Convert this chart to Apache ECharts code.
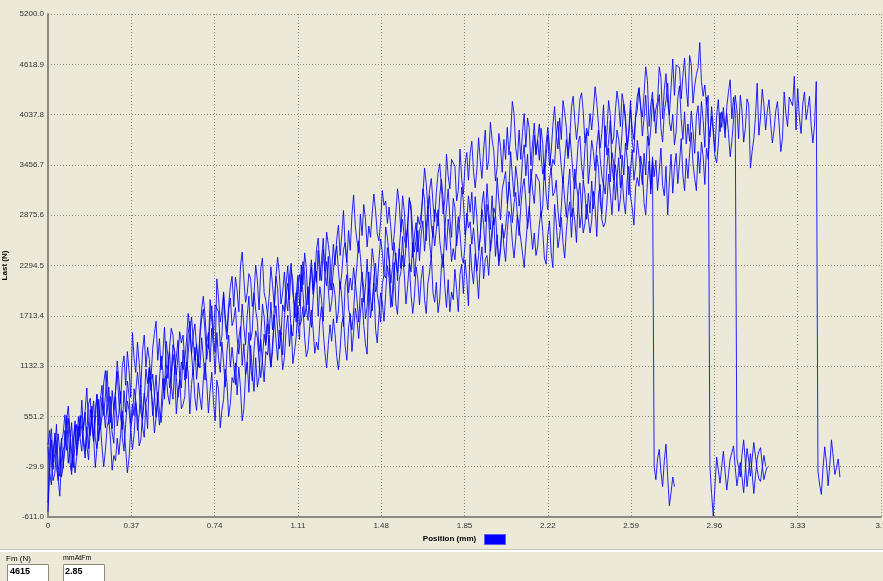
<!DOCTYPE html>
<html>
<head>
<meta charset="utf-8">
<title>Last / Position</title>
<script src="https://cdn.jsdelivr.net/npm/echarts@6.0.0/dist/echarts.min.js"></script>
<style>
  html, body { margin: 0; padding: 0; background: #ECE9D8; }
  #chart { width: 883px; height: 581px; }
</style>
</head>
<body>
<div id="chart"></div>
<script>
// Sampling step of the recorded traces along the position axis (mm)
const POSITION_STEP_MM = 0.0075;

// Axis ticks
const positionTicks = { min: 0, max: 3.7, interval: 0.37 };
const loadTicks = { min: -611, max: 5200, interval: 581.1 };

// Load traces (N) of the four specimens, one sample per step, ten samples per row
const specimen1 = [
  220,390,30,-190,-110,160,350,130,-150,-20,
  170,500,670,390,140,-40,230,460,270,530,
  560,300,150,380,690,760,420,260,630,800,
  270,490,770,640,420,710,890,570,360,240,
  780,440,590,840,310,150,460,730,620,400,
  550,870,730,390,570,910,430,310,710,800,
  1120,900,560,770,1030,670,450,640,990,850,
  850,1150,1300,910,750,1100,1230,1430,990,880,
  1320,970,1120,1510,1650,1270,1030,1350,980,1210,
  1110,1460,1230,970,1400,1520,1180,1570,1350,1040,
  1520,1220,1060,1410,1170,890,1310,1490,1120,1350,
  1150,920,1280,1450,1590,1140,1390,1030,1200,1520,
  1130,960,1320,1540,1460,1190,1000,1220,1500,1370,
  1620,1290,1120,1400,1650,1830,1560,1330,1520,1260,
  1680,1940,2090,1860,1550,1480,1820,1980,1610,1440,
  2200,1980,1700,1830,2050,1760,1580,1900,2110,2230,
  1710,2050,1900,1650,2180,2340,2030,1760,1870,2090,
  1950,1630,1770,2110,1930,1590,2070,2190,1790,1700,
  1550,1770,2110,1900,1640,2000,2220,2030,1680,1820,
  2220,1920,1770,2160,2320,1970,1840,1640,2080,2190,
  2150,2500,2350,1960,1820,2200,2440,2120,2490,2260,
  2630,2280,2510,2770,2340,2220,2560,2170,2390,2700,
  2350,2650,2810,2460,2700,2980,2560,2380,2750,2520,
  2710,2940,2580,2410,2270,2720,2470,2830,2660,2340,
  2490,2360,2640,2860,2670,2400,2320,2540,2900,2730,
  2800,2540,2730,2500,2230,2410,2660,2940,2770,2440,
  3000,2830,2460,2620,2960,2890,2580,2350,2500,2760,
  2610,2730,2940,3260,3080,2790,3010,3140,2860,2640,
  2970,3190,3300,3030,2720,2880,3410,3160,3010,3350,
  3350,3260,2860,2980,3460,3120,2940,3280,3420,3100,
  3140,3280,2930,2740,2960,3320,3060,2850,3190,3410,
  2860,2970,3410,3210,3080,2730,2890,3280,3130,2830,
  3130,2900,3270,2950,3190,3570,3430,3040,2890,3240,
  3120,3430,3650,3260,3600,3480,3050,3310,3540,3190,
  3570,3340,3710,3530,3110,3390,3630,3280,3440,3740,
  3720,3400,3230,3590,3340,3790,3650,3120,3500,
  -30,-180,60,170,-90,-260,40,230,-140,-480,-330,-150,-260
];

const specimen2 = [
  -550,-100,280,-60,120,460,-20,-140,260,350,
  570,350,10,220,480,120,-100,90,440,300,
  150,450,600,210,50,400,530,730,290,180,
  750,400,550,940,1080,700,460,780,410,640,
  840,1190,960,700,1130,1250,910,1300,1080,770,
  1520,1220,1060,1410,1170,890,1310,1490,1120,1350,
  1210,980,1340,1510,1650,1200,1450,1090,1260,1580,
  1160,990,1350,1570,1490,1220,1030,1250,1530,1400,
  1490,1160,990,1270,1520,1700,1430,1200,1390,1130,
  1530,1790,1940,1710,1400,1330,1670,1830,1460,1290,
  2140,1920,1640,1770,1990,1700,1520,1840,2050,2170,
  1820,2160,2010,1760,2290,2450,2140,1870,1980,2200,
  2140,1820,1960,2300,2120,1780,2260,2380,1980,1890,
  1720,1940,2280,2070,1810,2170,2390,2200,1850,1990,
  2220,1920,1770,2160,2320,1970,1840,1640,2080,2190,
  1990,2340,2190,1800,1660,2040,2280,1960,2330,2100,
  2470,2120,2350,2610,2180,2060,2400,2010,2230,2540,
  2300,2600,2760,2410,2650,2930,2510,2330,2700,2470,
  2880,3110,2750,2580,2440,2890,2640,3000,2830,2510,
  2750,2620,2900,3120,2930,2660,2580,2800,3160,2990,
  3040,2780,2970,2740,2470,2650,2900,3180,3010,2680,
  3100,2930,2560,2720,3060,2990,2680,2450,2600,2860,
  2770,2890,3100,3420,3240,2950,3170,3300,3020,2800,
  3140,3360,3470,3200,2890,3050,3580,3330,3180,3520,
  3530,3440,3040,3160,3640,3300,3120,3460,3600,3280,
  3590,3730,3380,3190,3410,3770,3510,3300,3640,3860,
  3400,3510,3950,3750,3620,3270,3430,3820,3670,3370,
  3750,3520,3890,3570,3810,4190,4050,3660,3510,3860,
  3520,3830,4050,3660,4000,3880,3450,3710,3940,3590,
  3740,3510,3880,3700,3280,3560,3800,3450,3610,3910,
  4130,3810,3640,4000,3750,4200,4060,3890,3530,3760,
  4120,4250,3970,3750,3940,4210,4290,4070,3710,3880,
  3790,4050,3860,4090,4360,4180,3930,3650,3820,4150,
  3660,3830,4200,4040,3700,3770,4080,4310,4160,3900,
  4280,4160,3950,3630,3810,4100,3880,3750,4030,4250,
  4340,4120,4010,4280,4590,4430,3900,4150,4300,3960,
  4100,4190,4590,4470,3990,4330,4510,4170,4030,4350,
  4680,4260,4610,4620,4580,4220,4480,4690,4350,4130,
  4720,4610,4170,4370,4500,4580,4870,4420,4250,4380,
  4150,4260,
  -20,-340,-600,-250,80,-70,-220,-30,150,-90,-300,-120,60,130,210,-40,-250,
  -110,20,-150,-330,-60,180,40,-140,60,250,90,-60,-170,-200,-40,100,-20
];

const specimen3 = [
  200,-100,-240,140,300,-40,-170,-370,60,170,
  210,560,410,20,-120,260,500,180,550,320,
  740,390,620,880,450,330,670,280,500,810,
  450,750,910,560,800,1080,660,480,850,620,
  840,1070,710,540,400,850,600,960,790,470,
  690,560,840,1060,870,600,520,740,1100,930,
  1110,850,1040,810,540,720,970,1250,1080,750,
  1420,1250,880,1040,1380,1310,1000,770,920,1180,
  1090,1210,1420,1740,1560,1270,1490,1620,1340,1120,
  1460,1680,1790,1520,1210,1370,1900,1650,1500,1840,
  1850,1760,1360,1480,1960,1620,1440,1780,1920,1600,
  1670,1810,1460,1270,1490,1850,1590,1380,1720,1940,
  1430,1540,1980,1780,1650,1300,1460,1850,1700,1400,
  1730,1500,1870,1550,1790,2170,2030,1640,1490,1840,
  1760,2070,2290,1900,2240,2120,1690,1950,2180,1830,
  2300,2070,2440,2260,1840,2120,2360,2010,2170,2470,
  2610,2290,2120,2480,2230,2680,2540,2370,2010,2240,
  2390,2520,2240,2020,2210,2480,2560,2340,1980,2150,
  2010,2270,2080,2310,2580,2400,2150,1870,2040,2370,
  1950,2120,2490,2330,1990,2060,2370,2600,2450,2190,
  2740,2620,2410,2090,2270,2560,2340,2210,2490,2710,
  2830,2610,2500,2770,3080,2920,2390,2640,2790,2450,
  2690,2780,3180,3060,2580,2920,3100,2760,2620,2940,
  2890,2750,3100,3290,3070,2710,2970,3180,2840,2620,
  3070,2960,2520,2720,2850,3200,3040,2650,2800,3100,
  2910,3140,2770,3090,2850,2470,2610,3000,3150,2800,
  3240,2930,2710,3100,2760,2880,3310,3050,2820,3170,
  3150,3380,3010,3190,3610,3330,3090,3440,3280,2980,
  3200,3520,3690,3330,3580,3130,3270,3440,3800,3570,
  3760,3930,3570,3350,3430,3700,3890,3670,3390,3520,
  3460,3790,3960,3680,3430,3250,3520,3750,3560,3820,
  3590,3330,3180,3410,3720,3790,3450,3290,3660,3830,
  3240,3460,3740,3610,3390,3680,3860,3540,3330,3210,
  3910,3570,3720,3970,3440,3280,3590,3860,3750,3530,
  3840,4160,4020,3680,3860,4200,3720,3600,4000,4090,
  4350,4130,3790,4000,4260,3900,3680,3870,4220,4080,
  3820,4120,4270,3880,3720,4070,4200,4400,3960,3850,
  4040,3690,3840,4230,4370,3990,3750,4070,3700,3930,
  3730,4080,3850,3590,4020,4140,3800,4190,3970,3660,
  4240,3940,3780,4130,3890,3610,4030,4210,3840,4070,
  4000,3770,4130,4300,4440,3990,4240,4060,
  60,-40,-150,110,280,30,-260,-80,120,-100,-340,-130,60,150,190,-10,-180,-90,-30
];

const specimen4 = [
  -450,190,410,20,360,240,-190,70,300,-50,
  390,160,530,350,-70,210,450,100,260,560,
  560,240,70,430,180,630,490,320,-40,190,
  340,470,190,-30,160,430,510,290,-70,100,
  40,300,110,340,610,430,180,-100,70,400,
  170,340,710,550,210,280,590,820,670,410,
  1010,890,680,360,540,830,610,480,760,980,
  1020,800,690,960,1270,1110,580,830,980,640,
  690,780,1180,1060,580,920,1100,760,620,940,
  770,630,980,1170,950,590,850,1060,720,500,
  970,860,420,620,750,1100,940,550,700,1000,
  940,1170,800,1120,880,500,640,1030,1180,830,
  1370,1060,840,1230,890,1010,1440,1180,950,1300,
  1260,1490,1120,1300,1720,1440,1200,1550,1390,1090,
  1230,1550,1720,1360,1610,1160,1300,1470,1830,1600,
  1650,1820,1460,1240,1320,1590,1780,1560,1280,1410,
  1320,1650,1820,1540,1290,1110,1380,1610,1420,1680,
  1500,1240,1090,1320,1630,1700,1360,1200,1570,1740,
  1300,1520,1800,1670,1450,1740,1920,1600,1390,1270,
  2030,1690,1840,2090,1560,1400,1710,1980,1870,1650,
  1970,2290,2150,1810,1990,2330,1850,1730,2130,2220,
  2410,2190,1850,2060,2320,1960,1740,1930,2280,2140,
  1840,2140,2290,1900,1740,2090,2220,2420,1980,1870,
  2100,1750,1900,2290,2430,2050,1810,2130,1760,1990,
  1900,2250,2020,1760,2190,2310,1970,2360,2140,1830,
  2540,2240,2080,2430,2190,1910,2330,2510,2140,2370,
  2410,2180,2540,2710,2850,2400,2650,2290,2460,2780,
  2510,2340,2700,2920,2840,2570,2380,2600,2880,2750,
  2770,2440,2270,2550,2800,2980,2710,2480,2670,2410,
  2510,2770,2920,2690,2380,2310,2650,2810,2440,2270,
  3000,2780,2500,2630,2850,2560,2380,2700,2910,3030,
  2620,2960,2810,2560,3090,3250,2940,2670,2780,3000,
  2990,2670,2810,3150,2970,2630,3110,3230,2830,2740,
  2790,3010,3350,3140,2880,3240,3460,3270,2920,3060,
  3340,3040,2890,3280,3440,3090,2960,2760,3200,3310,
  3210,3560,3410,3020,2880,3260,3500,3180,3550,3320,
  3510,3160,3390,3650,3220,3100,3440,2880,3270,3580,
  3130,3430,3590,3240,3480,3760,3340,3160,3530,3300,
  3600,3830,3470,3300,3160,3610,3360,3720,3550,3230,
  3650,3520,3800,4020,3830,3560,3480,3700,4060,3890,
  4120,3860,4050,3820,3550,3730,3980,4260,4090,3760,
  4260,4090,3720,3880,4220,4150,3420,3610,3760,4020,
  4400,3800,4010,4330,4150,3860,4080,4210,3930,3710,
  3860,4080,4190,3920,3610,3770,4300,4050,3900,4240,
  4230,4140,4480,3860,4340,4000,3820,4160,4300,3980,
  4110,4250,3900,3710,3930,4420,
  -80,-240,-350,-50,200,20,-250,-10,280,90,-120,-40,60,-150
];

// Read-outs shown under the chart
const maxLoadText = '4615';
const positionAtMaxText = '2.85';

const TEXT_FONT = '"Liberation Sans", Arial, sans-serif';
const TRACE_COLOR = '#0000ff';
const specimens = [specimen1, specimen2, specimen3, specimen4];

const chart = echarts.init(document.getElementById('chart'), null, { renderer: 'canvas' });

const gridLine = { show: true, lineStyle: { color: '#8f8d84', width: 1, type: [1, 2] } };

chart.setOption({
  animation: false,
  backgroundColor: '#ECE9D8',
  grid: { left: 48, top: 14, width: 833, height: 503, containLabel: false, outerBoundsMode: 'none' },
  legend: {
    data: [{ name: 'Last (N)', icon: 'rect' }],
    left: 484, top: 534,
    itemWidth: 21, itemHeight: 10,
    padding: 0, itemGap: 0,
    selectedMode: false,
    formatter: () => '',
    itemStyle: { color: TRACE_COLOR, borderColor: '#5a5aff', borderWidth: 1 }
  },
  xAxis: {
    type: 'value',
    min: positionTicks.min, max: positionTicks.max, interval: positionTicks.interval,
    name: 'Position (mm)',
    nameLocation: 'middle',
    nameGap: 18,
    nameTextStyle: { fontFamily: TEXT_FONT, fontSize: 8, fontWeight: 'bold', color: '#000', padding: [0, 30, 0, 0] },
    axisLine: { show: true, onZero: false, lineStyle: { color: '#8c8a80', width: 2 } },
    axisTick: { show: false },
    axisLabel: {
      margin: 5, fontFamily: TEXT_FONT, fontSize: 8, color: '#333',
      formatter: v => (Math.abs(v) < 1e-9 ? '0' : String(parseFloat(v.toFixed(2))))
    },
    splitLine: gridLine
  },
  yAxis: {
    type: 'value',
    min: loadTicks.min, max: loadTicks.max, interval: loadTicks.interval,
    name: 'Last (N)',
    nameLocation: 'middle',
    nameRotate: 90,
    nameGap: 33,
    nameTextStyle: { fontFamily: TEXT_FONT, fontSize: 8, fontWeight: 'bold', color: '#000' },
    axisLine: { show: true, onZero: false, lineStyle: { color: '#8c8a80', width: 2 } },
    axisTick: { show: false },
    axisLabel: {
      margin: 4, fontFamily: TEXT_FONT, fontSize: 8, color: '#333',
      formatter: v => v.toFixed(1)
    },
    splitLine: gridLine
  },
  series: specimens.map(values => ({
    type: 'line',
    name: 'Last (N)',
    data: values.map((v, i) => [+(i * POSITION_STEP_MM).toFixed(4), v]),
    showSymbol: false,
    symbol: 'none',
    clip: true,
    silent: true,
    itemStyle: { color: TRACE_COLOR },
    lineStyle: { color: TRACE_COLOR, width: 1, opacity: 0.85 }
  })),
  graphic: [
    // panel separator
    { type: 'rect', left: 0, top: 549, shape: { width: 883, height: 1 }, style: { fill: '#c9c6b6' }, silent: true },
    { type: 'rect', left: 0, top: 550, shape: { width: 883, height: 2 }, style: { fill: '#ffffff' }, silent: true },
    // Fm read-out
    { type: 'text', left: 6, top: 555, style: { text: 'Fm (N)', font: '8px ' + TEXT_FONT, fill: '#000' }, silent: true },
    { type: 'rect', shape: { x: 7.5, y: 564.5, width: 41, height: 22 }, style: { fill: '#ffffff', stroke: '#8d8b80', lineWidth: 1 }, silent: true },
    { type: 'text', left: 10, top: 567, style: { text: maxLoadText, font: 'bold 9px ' + TEXT_FONT, fill: '#000' }, silent: true },
    // position-at-Fm read-out
    { type: 'text', left: 63, top: 555, style: { text: 'mmAtFm', font: '7px ' + TEXT_FONT, fill: '#000' }, silent: true },
    { type: 'rect', shape: { x: 63.5, y: 564.5, width: 41, height: 22 }, style: { fill: '#ffffff', stroke: '#8d8b80', lineWidth: 1 }, silent: true },
    { type: 'text', left: 65, top: 567, style: { text: positionAtMaxText, font: 'bold 9px ' + TEXT_FONT, fill: '#000' }, silent: true }
  ]
});
</script>
</body>
</html>
